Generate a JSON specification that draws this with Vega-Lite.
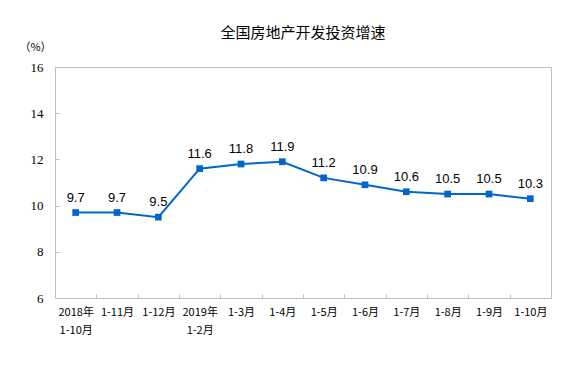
{
  "$schema": "https://vega.github.io/schema/vega-lite/v6.json",
  "width": 496,
  "height": 231,
  "autosize": "none",
  "padding": {"left": 55, "top": 67, "right": 37, "bottom": 73},
  "background": "white",
  "config": {"view": {"stroke": "#bfbfbf", "strokeWidth": 1}},
  "title": {
    "text": "全国房地产开发投资增速",
    "font": "Noto Sans CJK SC",
    "fontSize": 15,
    "fontWeight": "normal",
    "color": "#000000",
    "anchor": "middle",
    "offset": 0
  },
  "data": {
    "values": [
      {"period": "2018年|1-10月", "value": 9.7},
      {"period": "1-11月", "value": 9.7},
      {"period": "1-12月", "value": 9.5},
      {"period": "2019年|1-2月", "value": 11.6},
      {"period": "1-3月", "value": 11.8},
      {"period": "1-4月", "value": 11.9},
      {"period": "1-5月", "value": 11.2},
      {"period": "1-6月", "value": 10.9},
      {"period": "1-7月", "value": 10.6},
      {"period": "1-8月", "value": 10.5},
      {"period": "1-9月", "value": 10.5},
      {"period": "1-10月", "value": 10.3}
    ]
  },
  "encoding": {
    "x": {
      "field": "period",
      "type": "nominal",
      "sort": null,
      "scale": {"type": "band", "paddingInner": 0, "paddingOuter": 0},
      "axis": {
        "title": null,
        "labelAngle": 0,
        "labelExpr": "split(datum.label, '|')",
        "labelFont": "Noto Sans CJK SC",
        "labelFontSize": 11,
        "labelColor": "#000000",
        "labelLineHeight": 18,
        "labelPadding": 12,
        "labelBaseline": "top",
        "tickBand": "extent",
        "tickSize": -4,
        "tickColor": "#bfbfbf",
        "domainColor": "#bfbfbf",
        "grid": false,
        "ticks": true
      }
    },
    "y": {
      "field": "value",
      "type": "quantitative",
      "scale": {"domain": [6, 16], "nice": false, "zero": false},
      "axis": {
        "title": "（%）",
        "titleAngle": 0,
        "titleX": -20,
        "titleY": -20,
        "titleAlign": "center",
        "titleBaseline": "middle",
        "titleFont": "Noto Sans CJK SC",
        "titleFontSize": 11,
        "titleFontWeight": "normal",
        "titleColor": "#000000",
        "values": [6, 8, 10, 12, 14, 16],
        "labelFont": "Liberation Serif",
        "labelFontSize": 13,
        "labelColor": "#000000",
        "labelPadding": 16,
        "tickSize": -4,
        "tickColor": "#bfbfbf",
        "domainColor": "#bfbfbf",
        "grid": false
      }
    }
  },
  "layer": [
    {"mark": {"type": "line", "color": "#0066CC", "strokeWidth": 2}},
    {"mark": {"type": "point", "shape": "square", "filled": true, "size": 45, "color": "#0066CC", "opacity": 1}},
    {
      "mark": {"type": "text", "dy": -15, "font": "Liberation Sans", "fontSize": 13, "color": "#000000"},
      "encoding": {"text": {"field": "value", "type": "quantitative", "format": ".1f"}}
    }
  ]
}
